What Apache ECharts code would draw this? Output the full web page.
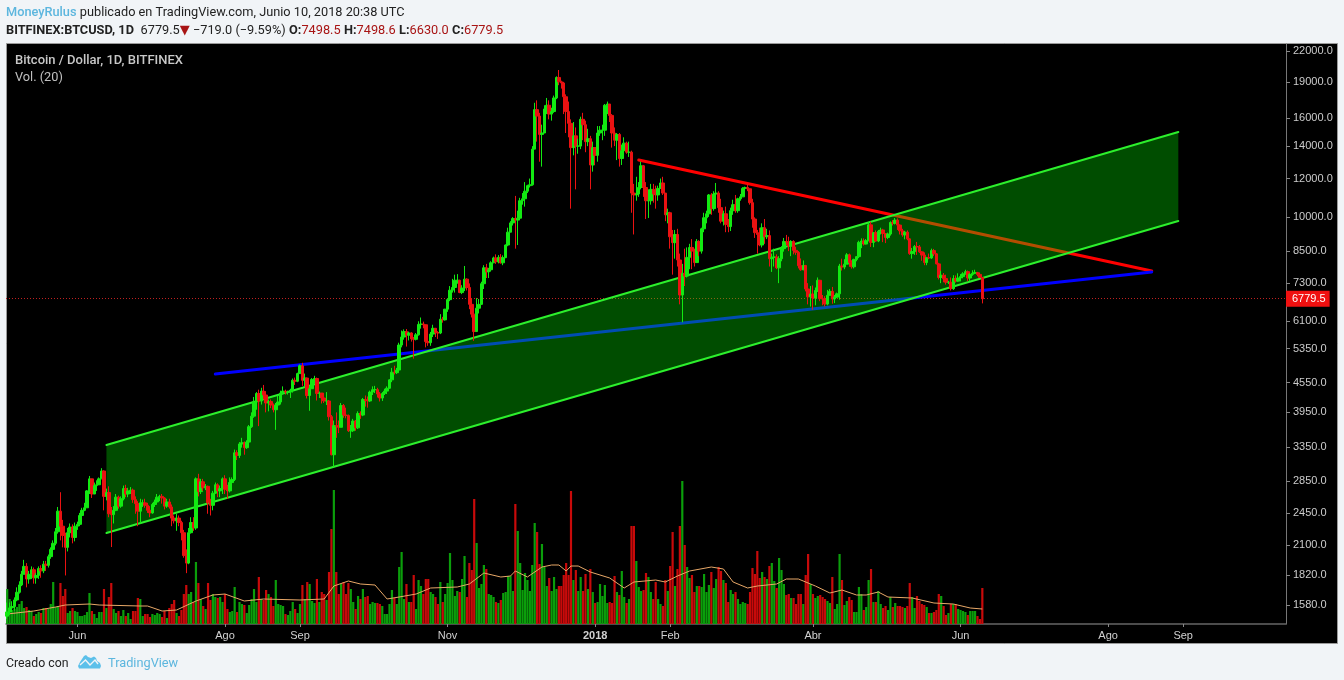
<!DOCTYPE html>
<html><head><meta charset="utf-8">
<style>html,body{margin:0;padding:0;background:#f1f4f7}#c{width:1344px;height:680px}</style>
<script src="https://cdn.jsdelivr.net/npm/echarts@6/dist/echarts.min.js"></script>
</head><body><div id="c"></div>
<script>
const startDate = '2017-05-03';
const dayCount = 529;
const firstOpen = 1500;
const closes = [
1530,1560,1570,1620,1680,1740,1830,1900,1790,1830,1870,1800,1820,1880,1860,1920,1910,1990,2060,2120,2240,2470,2300,2200,2080,2230,2290,2180,2300,
2320,2420,2480,2510,2720,2880,2680,2790,2800,2880,2990,2650,2700,2440,2430,2480,2640,2530,2620,2750,2680,2720,2730,2610,2560,2470,2570,2570,2540,2480,
2450,2550,2580,2640,2650,2630,2530,2580,2520,2390,2360,2390,2340,2230,2000,1930,2230,2340,2280,2880,2710,2840,2760,2780,2570,2540,2690,2800,2720,2750,2880,
2740,2720,2830,2870,3260,3220,3400,3420,3340,3430,3690,3880,4150,4320,4170,4370,4290,4130,4160,4090,4000,4090,4150,4330,4370,4350,4350,4390,4600,4580,4750,
4930,4600,4650,4280,4420,4620,4640,4320,4330,4230,4170,4170,3870,3230,3710,3700,3680,4080,3900,3890,3620,3620,3790,3670,3930,3900,4200,4180,4170,4350,
4400,4400,4310,4230,4320,4370,4430,4610,4780,4770,4830,5440,5650,5800,5700,5760,5600,5590,5710,6000,6010,5990,5530,5500,5730,5890,5770,5760,6150,6130,6450,
6750,7060,7150,7400,7400,6980,7130,7440,7150,6600,6300,5800,6480,6600,7280,7850,7700,7780,8040,8230,8080,8250,8040,8240,8750,9300,9720,9920,9850,9940,
10800,10900,11300,11600,11650,13800,16650,16150,14800,14900,16700,17000,16300,16500,17600,19400,19000,18900,17700,16500,15600,13900,14700,14000,14000,15900,15500,14300,14500,12800,13900,
13400,14900,15100,15100,17000,17100,16200,14900,14400,14800,13200,13700,14200,13600,13600,11200,11100,11150,11500,12750,11500,10800,10800,11400,11150,11100,11450,11750,11200,10100,10200,
9100,8850,9200,8150,6900,7650,7550,8250,8650,8500,8050,8900,8500,9450,9960,10150,11100,10400,11150,11200,10450,9800,10150,9650,9550,10300,10600,10300,
10900,11000,11450,11500,11430,10700,9900,9280,9200,8750,9500,9100,9150,8200,8250,8270,7850,8200,8600,8900,8880,8700,8900,8530,8450,7930,7780,7940,7100,6840,6930,
6800,7050,7400,6780,6770,6610,6890,7020,6770,6830,6940,7920,7880,7990,8350,8050,7890,8170,8280,8860,8920,8790,8930,9630,8860,9280,8920,9340,9400,9240,
9070,9220,9740,9700,9850,9620,9360,9180,9300,9010,8400,8480,8690,8670,8470,8340,8050,8240,8230,8520,8390,8000,7500,7580,7460,7330,7330,7110,7460,7370,7480,
7530,7630,7710,7480,7610,7650,7680,7610,7498.5,6779.5];
const lows = [
1480,1510,1530,1540,1610,1670,1730,1830,1720,1750,1790,1750,1750,1790,1800,1840,1860,1890,1970,2040,2100,2220,2150,2080,1820,2040,2180,2120,2140,
2260,2300,2400,2470,2510,2680,2630,2730,2720,2820,2880,2480,2600,2400,2083,2330,2470,2500,2510,2600,2640,2640,2680,2570,2440,2300,2330,2520,2510,2450,
2400,2440,2520,2560,2590,2560,2490,2510,2500,2300,2330,2250,2300,2150,1980,1840,1920,2220,2250,2260,2650,2680,2720,2730,2440,2420,2480,2680,2640,2640,2680,
2680,2620,2700,2800,2850,3150,3180,3340,3230,3320,3420,3670,3850,4000,3700,4100,4200,3950,3970,4030,3950,3635,4030,4100,4300,4300,4300,4230,4340,4500,4560,
4740,4480,4450,4220,3980,4420,4530,4180,4230,4120,4130,4090,3800,3220,3050,3500,3580,3680,3850,3840,3600,3500,3600,3620,3650,3830,3880,4060,4040,4150,
4290,4330,4240,4160,4170,4290,4310,4420,4560,4730,4740,4820,5380,5580,5400,5560,5530,5100,5560,5690,5880,5890,5380,5420,5420,5650,5650,5600,5730,6050,6110,
6370,6700,6980,6980,7280,6960,6930,7030,7050,6450,6200,5550,5800,6320,6580,7100,7480,7480,7710,8030,8000,8020,8010,7950,8220,8700,9300,9600,8600,8750,
9900,10600,10500,11200,11500,11600,13800,14300,13000,12700,14900,16300,15900,15800,16400,17500,18700,18400,16300,14900,14600,10400,13400,11400,13500,13800,14400,13600,14000,11400,12400,
12800,13000,14700,14400,14700,16300,15700,13900,14000,13100,12700,12800,13600,13500,13300,10200,9200,10800,11000,11400,11000,9900,9950,10600,10700,10400,10800,11500,11100,9800,9700,
8600,7600,8200,7900,6600,6060,7200,7500,7800,7800,7900,8100,8300,8400,9300,9700,10000,10100,10300,10800,10200,9700,9600,9300,9300,9350,10100,10200,
10200,10800,11000,11050,11300,10600,9500,9050,8400,8700,8650,8800,9000,7900,7700,7900,7800,7300,8100,8480,8750,8500,8300,8370,8350,7830,7740,7760,7020,6600,6530,
6430,6570,7000,6700,6570,6530,6570,6880,6620,6640,6800,6750,7750,7800,7990,7890,7820,7830,8100,8220,8620,8730,8780,8910,8670,8660,8890,8870,9200,8870,
8830,9000,9150,9600,9650,9400,9200,9100,8990,8950,8350,8200,8350,8350,8430,8120,7950,7950,8180,8190,8300,7980,7430,7300,7330,7250,7270,7050,7070,7320,7350,
7360,7470,7600,7370,7380,7560,7620,7540,7480,6630];
const highs = [
1600,1600,1610,1640,1720,1770,1860,1960,1930,1860,1900,1890,1840,1900,1910,1950,1950,2010,2080,2150,2280,2520,2703,2370,2230,2280,2330,2320,2340,
2350,2450,2510,2570,2730,2920,2720,2830,2860,2900,3030,3000,2750,2780,2520,2530,2680,2660,2650,2790,2800,2760,2770,2750,2650,2590,2620,2610,2620,2570,
2530,2570,2610,2680,2670,2680,2640,2620,2620,2550,2420,2440,2420,2360,2260,2060,2280,2400,2400,2900,2950,2880,2880,2810,2790,2620,2720,2830,2820,2790,2900,
2930,2800,2900,2900,3310,3300,3430,3500,3440,3460,3720,3950,4250,4350,4400,4440,4500,4370,4200,4200,4120,4130,4280,4380,4470,4400,4380,4420,4640,4660,4770,
4960,5000,4750,4660,4480,4650,4700,4660,4360,4310,4280,4350,4190,3900,3800,3950,3800,4130,4110,4040,3910,3720,3830,3810,3970,3970,4230,4280,4260,4380,
4470,4480,4440,4350,4350,4420,4470,4620,4880,4930,4880,5500,5830,5860,5870,5800,5780,5650,5760,6090,6200,6080,6000,5680,5790,5990,5900,5810,6300,6220,6460,
6790,7200,7450,7600,7620,7420,7230,7920,7470,7290,6800,6500,6800,6770,7350,7950,8000,7850,8100,8280,8370,8340,8380,8330,8770,9500,9800,9990,11050,10300,
10950,11200,11800,11650,12000,14000,17200,17400,16400,15500,17000,17600,17400,16800,17800,19500,20100,19100,19000,17900,17300,15900,15700,15300,14500,16100,16400,15800,15200,14700,14300,
13900,15400,15400,15500,17100,17300,17100,16300,15300,14900,14900,14100,14600,14300,14300,13700,11700,12100,11800,13000,12800,11800,11400,11700,11700,11600,11600,12000,12100,11200,10400,
10250,9400,9400,9450,8400,8000,8600,8650,8800,9000,8600,9000,8950,9500,10200,10300,11150,11200,11300,11750,11300,10900,10300,10500,9900,10450,10850,11100,
10950,11150,11520,11550,11700,11450,10900,9980,9400,9500,9700,9900,9450,9380,8400,8600,8370,8300,8700,9050,9180,9100,8950,8950,8680,8500,8210,8130,7960,7300,7200,
7220,7150,7500,7410,6900,6860,7070,7100,7170,6900,6980,8000,8200,8180,8420,8400,8140,8200,8300,8930,9030,9030,9000,9750,9770,9300,9380,9400,9500,9450,
9250,9280,9790,9850,9950,9930,9650,9450,9360,9380,9030,8630,8750,8880,8750,8500,8450,8270,8400,8600,8590,8420,8040,7740,7660,7600,7380,7500,7580,7570,7650,
7620,7690,7780,7750,7650,7760,7780,7700,7680,7498.6];
const volumes = [
35,25,14,15,17,20,23,16,17,14,
13,8,10,12,11,16,16,15,20,42,
17,18,41,28,35,11,13,16,13,12,
8,8,9,12,31,13,10,6,12,12,
35,16,27,41,15,11,13,8,14,8,
11,5,13,13,26,25,8,10,10,7,
10,9,11,10,7,13,6,16,20,24,
11,8,14,30,39,30,32,22,62,41,
25,18,15,41,24,30,27,26,27,22,
30,15,12,13,37,12,22,20,19,11,
19,25,35,22,47,25,24,34,30,27,
18,44,20,19,18,10,9,13,22,15,
11,20,39,25,42,40,23,21,45,22,
32,30,24,52,95,134,
52,30,40,42,30,41,35,22,15,28,
25,35,27,28,20,22,21,21,20,18,
10,10,20,34,26,20,57,72,25,40,
22,22,49,15,44,38,30,45,45,32,
30,27,20,42,22,30,41,71,44,28,
33,32,45,68,27,61,54,125,81,36,
40,59,55,30,29,27,22,21,
24,31,32,48,48,33,
120,93,61,34,51,44,33,59,101,92,
60,80,57,38,46,33,47,35,38,38,
49,61,49,133,44,54,33,47,33,50,
35,55,32,21,22,40,28,39,21,22,
21,48,32,29,53,27,21,25,98,98,
63,37,33,34,51,47,32,25,42,25,
20,18,44,33,58,92,38,55,98,143,
79,57,46,49,32,38,38,37,50,32,
39,52,36,45,57,53,44,41,22,34,
30,32,25,20,22,21,20,32,56,50,
73,46,52,47,45,58,61,43,36,66,
54,40,29,30,26,26,20,30,30,20,
49,70,40,30,26,28,29,27,25,23,
21,47,15,20,70,44,19,23,27,24,
12,12,37,30,14,17,44,55,22,22,
33,20,16,18,14,27,17,21,18,18,
17,16,18,41,27,16,28,23,20,19,
17,11,11,12,14,30,28,18,9,11,
20,20,20,15,14,13,12,9,13,13,
13,8,5,36];
const maDays = [0,11,20,24,34,38,55,58,64,70,78,85,90,98,106,121,131,135,141,146,152,157,162,169,175,186,191,197,204,208,210,215,221,225,228,231,233,236,241,249,255,259,268,272,277,282,291,296,300,306,310,318,322,327,334,340,345,351,355,360,364,374,383,391,398,403];
const maValues = [10,13,17,19,20,19,18,18,13,14,23,29,30,23,25,24,25,38,43,40,39,25,27,30,36,37,40,51,47,48,53,47,57,59,59,53,58,58,52,46,36,42,44,42,48,53,57,55,42,36,38,40,45,45,38,31,34,29,29,32,27,26,21,20,16,15];
const priceTicks = [22000,19000,16000,14000,12000,10000,8500,7300,6100,5350,4550,3950,3350,2850,2450,2100,1820,1580];
const timeTickDates = ['2017-06-01','2017-08-01','2017-09-01','2017-11-01','2018-01-01','2018-02-01','2018-04-01','2018-06-01','2018-08-01','2018-09-01'];
const timeTickLabels = ['Jun','Ago','Sep','Nov','2018','Feb','Abr','Jun','Ago','Sep'];
const lastPrice = 6779.5;
const channelUpper = [['2017-06-13',3382],['2018-08-30',14970]];
const channelLower = [['2017-06-13',2226],['2018-08-30',9805]];
const redLine = [['2018-01-19',13105],['2018-08-19',7733]];
const blueLine = [['2017-07-28',4739],['2018-08-19',7700]];

const days = [];
{ const t0 = Date.parse(startDate+'T00:00:00Z');
  for (let i=0;i<dayCount;i++) days.push(new Date(t0+i*864e5).toISOString().slice(0,10)); }
const opens = [firstOpen].concat(closes.slice(0,-1));
const candles = closes.map((c,i)=>[opens[i],c,lows[i],highs[i]]);
const AXF = '"Liberation Sans",Arial,sans-serif';
const UIF = 'Roboto,"Open Sans",sans-serif';
const isTimeTick = (i,v)=>timeTickDates.includes(v);

const chart = echarts.init(document.getElementById('c'),null,{renderer:'canvas'});
const trend = (name,data,color,width,z)=>({name,type:'line',data,z,symbol:'none',silent:true,animation:false,lineStyle:{color,width,cap:'round'}});
chart.setOption({
  animation:false,
  backgroundColor:'#f1f4f7',
  graphic:[
    {type:'rect',z:-10,shape:{x:6.5,y:43.5,width:1331,height:600},style:{fill:'#000',stroke:'#9a9a9a',lineWidth:1}},
    {type:'text',z:10,x:6,y:13,style:{verticalAlign:'middle',text:'{a|MoneyRulus} {b|publicado en TradingView.com, Junio 10, 2018 20:38 UTC}',rich:{
      a:{fontFamily:UIF,fontSize:12.75,fontWeight:500,fill:'#5cb6de'},
      b:{fontFamily:UIF,fontSize:12.75,fill:'#222'}}}},
    {type:'text',z:10,x:6,y:31,style:{verticalAlign:'middle',text:'{b|BITFINEX:BTCUSD, 1D}  {n|6779.5}{t|▼}{n| −719.0 (−9.59%)} {b|O:}{r|7498.5} {b|H:}{r|7498.6} {b|L:}{r|6630.0} {b|C:}{r|6779.5}',rich:{
      b:{fontFamily:UIF,fontSize:12.75,fontWeight:700,fill:'#222'},
      n:{fontFamily:UIF,fontSize:12.75,fill:'#222'},
      t:{fontFamily:'"DejaVu Sans"',fontSize:13,fill:'#a81414'},
      r:{fontFamily:UIF,fontSize:12.75,fill:'#a81414'}}}},
    {type:'text',z:10,x:15,y:61,style:{verticalAlign:'middle',text:'Bitcoin / Dollar, 1D, BITFINEX',fontFamily:UIF,fontSize:13,fontWeight:500,fill:'#c8c8c8'}},
    {type:'text',z:10,x:15,y:78,style:{verticalAlign:'middle',text:'Vol. (20)',fontFamily:UIF,fontSize:12.75,fill:'#c0c0c0'}},
    {type:'text',z:10,x:6,y:663.5,style:{verticalAlign:'middle',text:'Creado con',fontFamily:UIF,fontSize:12.3,fill:'#222'}},
    {type:'text',z:10,x:108,y:663.5,style:{verticalAlign:'middle',text:'TradingView',fontFamily:UIF,fontSize:12.75,fill:'#5cb6de'}},
    {type:'polygon',z:10,shape:{points:[[78,666],[80,662],[84,656],[86,655],[88,657],[91,658],[94,656.5],[96,658],[97,661],[100,663],[101,666],[100,668.5],[79,668.5]]},style:{fill:'#5cc0ea'}},
    {type:'polyline',z:11,shape:{points:[[80,665],[85.5,660],[90,665],[95,660],[98,664]]},style:{fill:'none',stroke:'#f1f4f7',lineWidth:1.4}}
  ],
  grid:{left:6,top:44,width:1280,height:580,containLabel:false},
  xAxis:{type:'category',data:days,boundaryGap:true,
    axisLine:{show:true,onZero:false,lineStyle:{color:'#666',width:1.5}},
    axisTick:{show:true,alignWithLabel:true,interval:isTimeTick,length:3,lineStyle:{color:'#888'}},
    axisLabel:{show:true,interval:isTimeTick,margin:6,fontFamily:AXF,fontSize:11,color:'#d0d0d0',
      formatter:v=>{const l=timeTickLabels[timeTickDates.indexOf(v)];return l==='2018'?'{y|2018}':l;},
      rich:{y:{fontFamily:AXF,fontSize:11,fontWeight:'bold',color:'#d0d0d0'}}},
    splitLine:{show:false}},
  yAxis:[
    {type:'log',logBase:10,position:'right',min:1445,max:22744,
      axisLine:{show:true,onZero:false,lineStyle:{color:'#777',width:1}},
      axisTick:{show:true,length:4,lineStyle:{color:'#888'},customValues:priceTicks},
      minorTick:{show:false},
      axisLabel:{show:true,margin:7,fontFamily:AXF,fontSize:11,color:'#cccccc',customValues:priceTicks,
        formatter:v=>{const x=v<100?Math.pow(10,v):v;return (Math.round(x/10)*10).toFixed(1);}},
      splitLine:{show:false}},
    {type:'value',min:0,max:580,show:false,position:'left',splitLine:{show:false}}
  ],
  series:[
    {name:'Last',type:'line',data:[],z:1,markLine:{silent:true,symbol:'none',z:1,animation:false,
      lineStyle:{color:'#c02020',type:[1,2],width:1},
      data:[{yAxis:lastPrice}],
      label:{show:true,position:'end',distance:0,formatter:()=>lastPrice.toFixed(1),color:'#fff',backgroundColor:'#f01010',padding:[3,4,2,6],fontFamily:AXF,fontSize:11}}},
    trend('Resistencia',redLine,'#ff0000',3,1.2),
    trend('Soporte',blueLine,'#0000ff',3,1.3),
    {name:'Canal',type:'custom',z:2,silent:true,data:[0],clip:true,
      renderItem:(p,api)=>{
        const pts=[channelUpper[0],channelUpper[1],channelLower[1],channelLower[0]].map(d=>api.coord(d));
        return {type:'polygon',shape:{points:pts},style:{fill:'rgba(0,255,0,0.3)'}};
      }},
    trend('CanalSup',channelUpper,'#2cf02c',2,2.5),
    trend('CanalInf',channelLower,'#2cf02c',2,2.5),
    {name:'Volumen',type:'bar',yAxisIndex:1,z:3,barWidth:2.2,silent:true,
      data:volumes.map((v,i)=>({value:v,itemStyle:{color:closes[i]>=opens[i]?'#0b9e0b':'#c80a0a'}}))},
    {name:'Vol MA',type:'line',yAxisIndex:1,z:4,symbol:'none',silent:true,
      data:maDays.map((d,i)=>[days[d],maValues[i]]),lineStyle:{color:'#e8a868',width:1}},
    {name:'BTCUSD',type:'candlestick',z:5,barWidth:3,silent:true,data:candles,
      itemStyle:{color:'#12ea12',color0:'#ea1212',borderColor:'#12ea12',borderColor0:'#ea1212',borderWidth:1}}
  ]
});
</script></body></html>
